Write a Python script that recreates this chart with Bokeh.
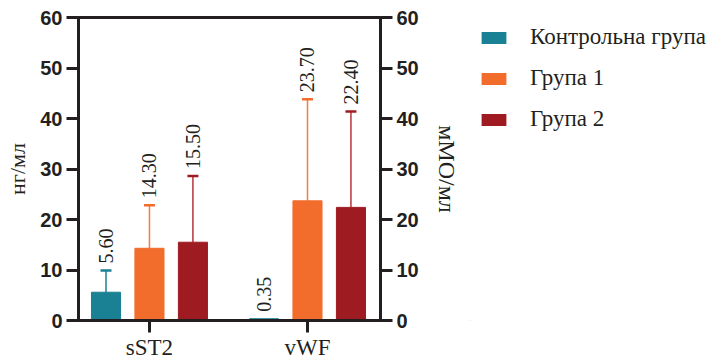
import math
from bokeh.plotting import figure
from bokeh.layouts import row
from bokeh.models import (Range1d, LinearAxis, ColumnDataSource, Legend, LegendItem,
                          FixedTicker, Whisker, TeeHead)
from bokeh.core.properties import value
from bokeh.embed import file_html
from bokeh.resources import INLINE

# ---- data ----
categories = ["sST2", "vWF"]
groups = ["Контрольна група", "Група 1", "Група 2"]
colors = ["#1a8094", "#f26c2c", "#9e1b22"]
err_colors = ["#1a8094", "#f47b42", "#b8333a"]
control = [5.60, 0.35]
group1 = [14.30, 23.70]
group2 = [15.50, 22.40]
control_err = [4.3, 0.0]
group1_err = [8.5, 20.1]
group2_err = [13.1, 19.0]
labels_control = ["5.60", "0.35"]
labels_group1 = ["14.30", "23.70"]
labels_group2 = ["15.50", "22.40"]
y_ticks = [0, 10, 20, 30, 40, 50, 60]

series = [
    (control, control_err, labels_control),
    (group1, group1_err, labels_group1),
    (group2, group2_err, labels_group2),
]
offsets = [-0.275, 0.0, 0.275]
bar_width = 0.184

SERIF_FACE = "'Liberation Serif', 'Times New Roman', Times, serif"
SANS_FACE = "'Liberation Sans', Arial, Helvetica, sans-serif"

p = figure(width=470, height=362,
           x_range=Range1d(-0.449, 1.462), y_range=Range1d(0, 60),
           output_backend="svg", toolbar_location=None,
           min_border_left=78, min_border_top=17, min_border_bottom=42,
           min_border_right=90)
p.grid.visible = False
p.background_fill_color = None
p.border_fill_color = "white"
p.outline_line_color = "#231f20"
p.outline_line_width = 3
p.outline_line_alpha = 1.0

def style_y(ax):
    ax.ticker = FixedTicker(ticks=y_ticks)
    ax.axis_line_width = 3
    ax.axis_line_color = "#231f20"
    ax.major_tick_line_width = 3
    ax.major_tick_line_color = "#231f20"
    ax.major_tick_out = 12
    ax.major_tick_in = 0
    ax.minor_tick_line_color = None
    ax.major_label_text_font = SANS_FACE
    ax.major_label_text_font_style = "bold"
    ax.major_label_text_font_size = "20px"
    ax.major_label_text_color = "#231f20"
    ax.major_label_standoff = 4
    ax.axis_label_text_font = SERIF_FACE
    ax.axis_label_text_font_style = "normal"
    ax.axis_label_text_color = "#231f20"

yl = p.yaxis[0]
style_y(yl)
yl.axis_label = "нг/мл"
yl.axis_label_text_font_size = "22px"
yl.axis_label_standoff = 7

yr = LinearAxis()
style_y(yr)
yr.axis_label = "мМО/мл"
yr.axis_label_text_font_size = "24px"
yr.axis_label_standoff = 12
p.add_layout(yr, "right")

xa = p.xaxis[0]
xa.ticker = FixedTicker(ticks=[0, 1])
xa.major_label_overrides = {0: categories[0], 1: categories[1]}
xa.axis_line_width = 3
xa.axis_line_color = "#231f20"
xa.major_tick_line_width = 3
xa.major_tick_line_color = "#231f20"
xa.major_tick_out = 12
xa.major_tick_in = 0
xa.minor_tick_line_color = None
xa.major_label_text_font = SERIF_FACE
xa.major_label_text_font_size = "23px"
xa.major_label_text_color = "#231f20"
xa.major_label_standoff = 2

idx = list(range(len(categories)))
for k, (vals, errs, labs) in enumerate(series):
    xs = [i + offsets[k] for i in idx]
    src = ColumnDataSource(dict(x=xs, top=vals))
    p.vbar(x="x", top="top", width=bar_width, source=src,
           fill_color=colors[k], line_color=colors[k], line_width=1)

    ex = [x for x, e in zip(xs, errs) if e > 0]
    lo = [v for v, e in zip(vals, errs) if e > 0]
    hi = [v + e for v, e in zip(vals, errs) if e > 0]
    esrc = ColumnDataSource(dict(base=ex, lower=lo, upper=hi))
    w = Whisker(base="base", lower="lower", upper="upper", source=esrc,
                line_color=err_colors[k], line_width=1.5,
                upper_head=TeeHead(size=11, line_color=colors[k], line_width=2.5),
                lower_head=None)
    p.add_layout(w)

    ty = [v + e for v, e in zip(vals, errs)]
    tsrc = ColumnDataSource(dict(x=xs, y=ty, t=labs))
    p.text(x="x", y="y", text="t", source=tsrc, angle=math.pi / 2,
           text_align="left", text_baseline="middle", y_offset=-7,
           text_font=value(SERIF_FACE), text_font_size="20px", text_color="#231f20")

# ---- legend panel (separate figure to the right) ----
pl = figure(width=250, height=362, output_backend="svg", toolbar_location=None,
            x_axis_location=None, y_axis_location=None,
            min_border_left=0, min_border_right=0, min_border_top=0, min_border_bottom=0,
            x_range=Range1d(0, 1), y_range=Range1d(0, 1))
pl.grid.visible = False
pl.outline_line_color = None
pl.background_fill_color = None
pl.border_fill_color = "white"

legend_items = []
for k, g in enumerate(groups):
    # legend proxy glyph, placed outside the visible range
    r = pl.vbar(x=[-5], top=[-5], width=0.1, fill_color=colors[k], line_color=None)
    legend_items.append(LegendItem(label=g, renderers=[r]))

legend = Legend(items=legend_items, location=(8, 188))
legend.label_text_font = SERIF_FACE
legend.label_text_font_size = "23px"
legend.label_text_color = "#231f20"
legend.glyph_width = 31
legend.glyph_height = 15
legend.label_standoff = 21
legend.label_height = 26
legend.spacing = 15
legend.padding = 5
legend.margin = 0
legend.border_line_color = None
legend.background_fill_alpha = 0
pl.add_layout(legend)

layout = row(p, pl, spacing=0)
open("out.html", "w").write(file_html(layout, INLINE))
